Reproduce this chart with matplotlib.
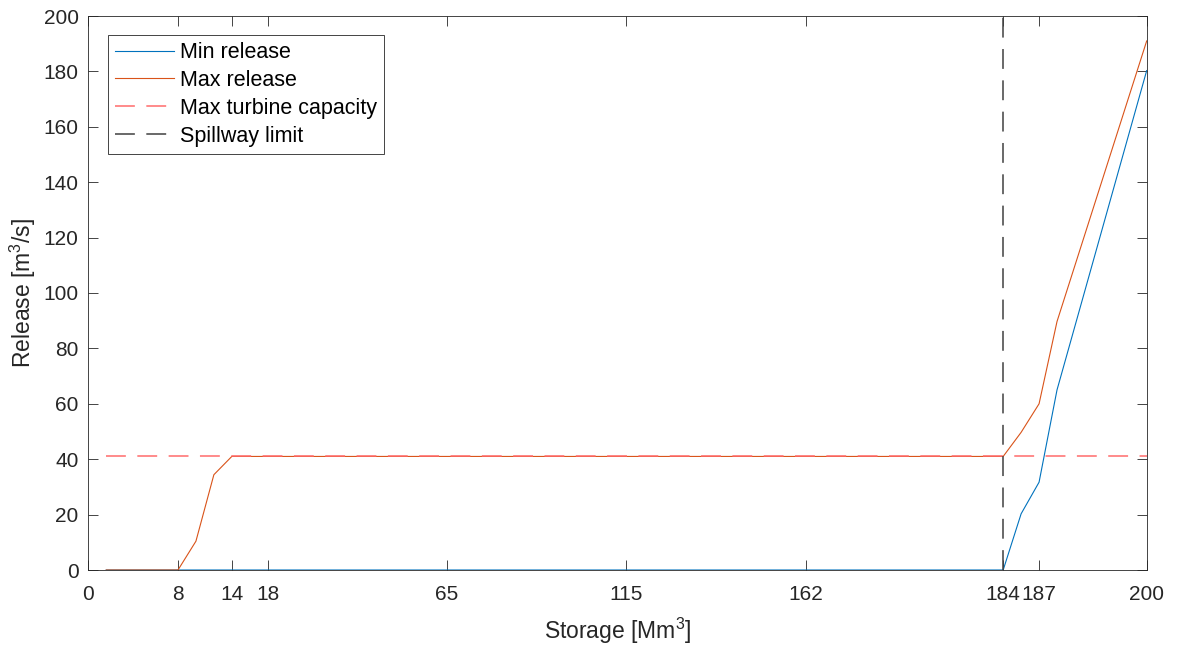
import matplotlib
matplotlib.use("Agg")
import matplotlib.pyplot as plt

# x axis is the sample index of the storage grid; ticks are labelled with storage
tick_idx = [0, 5, 8, 10, 20, 30, 40, 51, 53, 59]
tick_storage = ["0", "8", "14", "18", "65", "115", "162", "184", "187", "200"]

max_idx = [1, 5, 6, 7, 8, 51, 52, 53, 54, 59]
max_release = [0, 0, 10.4, 34.4, 41, 41, 49.7, 60, 89.7, 191]

min_idx = [1, 51, 52, 53, 54, 59]
min_release = [0, 0, 20.3, 31.7, 65, 180.3]

turbine_cap = 41
turbine_idx = [1, 59]
spill_idx = 51

plt.rcParams["font.family"] = ["Liberation Sans", "DejaVu Sans"]
plt.rcParams["mathtext.fontset"] = "custom"
plt.rcParams["mathtext.rm"] = "Liberation Sans"

fig = plt.figure(figsize=(11.8, 6.51), dpi=100)
ax = fig.add_axes([88.3 / 1180, 81 / 651, (1146.7 - 88.3) / 1180, (570 - 16) / 651])

ax.plot(min_idx, min_release, color="#0072BD", lw=0.8, label="Min release")
ax.plot(max_idx, max_release, color="#D95319", lw=0.8, label="Max release")
ax.plot(turbine_idx, [turbine_cap] * 2, color="#ff6b6b", lw=1.1,
        dashes=(13, 7.5), label="Max turbine capacity")
ax.plot([spill_idx, spill_idx], [0, 200], color="#404040", lw=1.1,
        dashes=(13, 7.5), label="Spillway limit")

ax.set_xlim(0, 59)
ax.set_ylim(0, 200)
ax.set_xticks(tick_idx)
ax.set_xticklabels(tick_storage)
ax.set_yticks(range(0, 201, 20))

ax.tick_params(direction="in", length=7.5, width=0.6, colors="#262626",
               labelsize=15, top=True, right=True)
ax.tick_params(axis="x", pad=10.5)
ax.tick_params(axis="y", pad=7)
for sp in ax.spines.values():
    sp.set_color("#262626")
    sp.set_linewidth(0.6)

ax.set_xlabel("Storage [Mm$^3$]", fontsize=16.5, color="#262626", labelpad=9)
ax.set_ylabel("Release [m$^3$/s]", fontsize=16.5, color="#262626", labelpad=4)

leg = ax.legend(loc="upper left", bbox_to_anchor=(0.0189, 0.9657), fontsize=15.5,
                frameon=True, fancybox=False, framealpha=1, edgecolor="#262626",
                handlelength=2.7, handletextpad=0.31, labelspacing=0.32,
                borderpad=0.33, borderaxespad=0)
leg.get_frame().set_linewidth(0.6)

fig.savefig("out.png", dpi=100, facecolor="white")
